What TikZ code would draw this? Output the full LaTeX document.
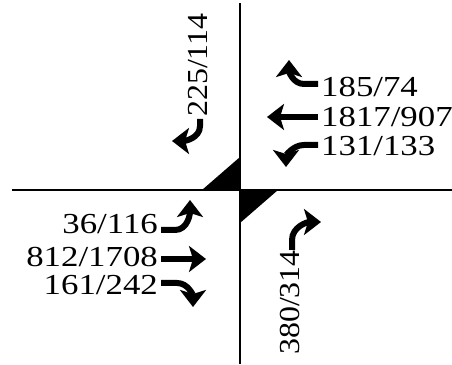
\documentclass[tikz,border=0pt]{standalone}
\usepackage{fontspec}
\setmainfont{Liberation Serif}
\usepackage{graphicx}
\usetikzlibrary{arrows.meta}

\begin{document}
\begin{tikzpicture}[x=1pt, y=1pt,
  cnt/.style={inner sep=0pt, font=\fontsize{29}{33}\selectfont},
  mov/.style={line width=6pt, -{Stealth[length=17pt, width=26pt, inset=4pt]}}]
\useasboundingbox (0,0) rectangle (452,364);
% Roads
\draw[line width=2pt] (240,361) -- (240,0);
\draw[line width=2pt] (12,174) -- (452,174);
% Corner wedges
\fill (202,174) -- (240,207) -- (240,174) -- cycle;
\fill (240,174) -- (278,174) -- (240,141) -- cycle;
% Southbound approach
\node[cnt, rotate=90, anchor=west] (sbr) at (198,247) {\scalebox{1.1}[1]{225/114}};
\draw[mov] ([shift={(2,-2)}]sbr.west) -- ++(0,-7) to[out=-90,in=0] ++(-28,-15);
% Westbound approach
\node[cnt, anchor=west] (wbr) at (321,277) {\scalebox{1.2}[1]{185/74}};
\node[cnt, anchor=west] (wbt) at (321,247) {\scalebox{1.2}[1]{1817/907}};
\node[cnt, anchor=west] (wbl) at (321,218) {\scalebox{1.2}[1]{131/133}};
\draw[mov] ([shift={(-3,3)}]wbr.west) -- ++(-14,0) to[out=180,in=-90] ++(-15,24);
\draw[mov] ([xshift=-3pt]wbt.west) -- ++(-51,0);
\draw[mov] ([shift={(-3,1)}]wbl.west) -- ++(-14,0) to[out=180,in=90] ++(-18,-22);
% Eastbound approach
\node[cnt, anchor=east] (ebl) at (158,140) {\scalebox{1.2}[1]{36/116}};
\node[cnt, anchor=east] (ebt) at (158,107) {\scalebox{1.2}[1]{812/1708}};
\node[cnt, anchor=east] (ebr) at (158,79) {\scalebox{1.2}[1]{161/242}};
\draw[mov] ([shift={(3,-6)}]ebl.east) -- ++(14,0) to[out=0,in=-90] ++(15,30);
\draw[mov] ([shift={(3,-2)}]ebt.east) -- ++(45,0);
\draw[mov] ([shift={(3,2)}]ebr.east) -- ++(16,0) to[out=0,in=90] ++(16,-24);
% Northbound approach
\node[cnt, rotate=90, anchor=east] (nbr) at (290,114) {\scalebox{1.1}[1]{380/314}};
\draw[mov] ([shift={(2,0)}]nbr.east) -- ++(0,10) to[out=90,in=180] ++(29,18);
\end{tikzpicture}
\end{document}
